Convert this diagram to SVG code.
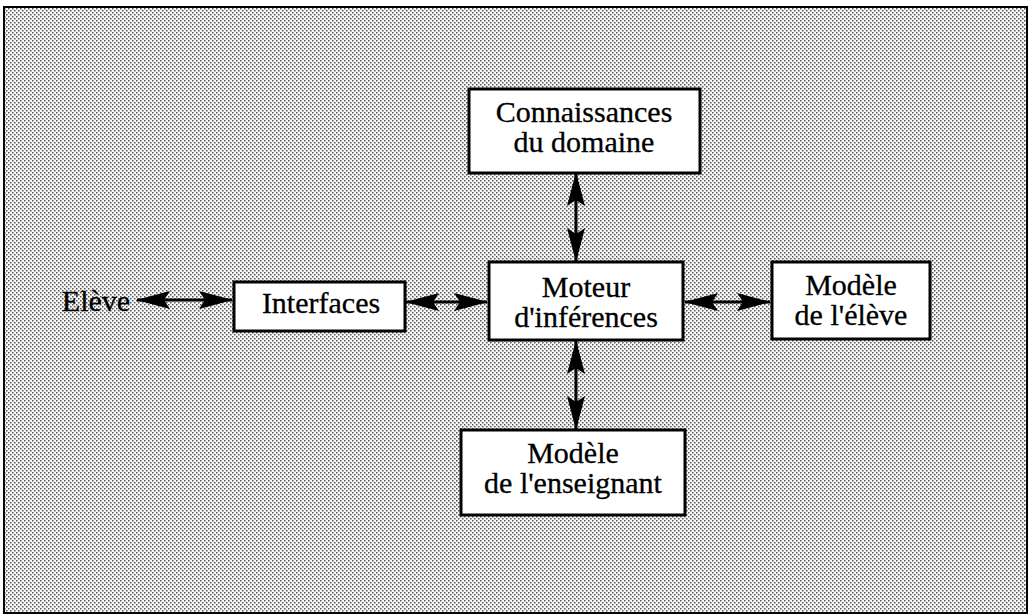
<svg xmlns="http://www.w3.org/2000/svg" width="1033" height="616" viewBox="0 0 1033 616">
<style>
.box{fill:#fff;stroke:#000;stroke-width:3}
.t{font-family:'Liberation Serif','Times New Roman',Times,serif;font-size:30px;fill:#000;stroke:#000;stroke-width:0.3;text-anchor:middle}
.c{stroke:#000;stroke-width:3;fill:none;marker-start:url(#ah);marker-end:url(#ah)}
</style>
<defs>
<pattern id="dots" width="4" height="4" patternUnits="userSpaceOnUse">
<rect width="4" height="4" fill="#f8f8f8"/>
<rect x="0" y="0" width="1.5" height="1.5" fill="#555"/>
<rect x="2" y="2" width="1.5" height="1.5" fill="#555"/>
</pattern>
<marker id="ah" markerUnits="userSpaceOnUse" markerWidth="34" markerHeight="18" refX="33" refY="9" orient="auto-start-reverse" viewBox="0 0 34 18">
<path d="M0,0 L34,9 L0,18 L6,9 Z" fill="#000"/>
</marker>
</defs>
<rect x="4" y="7" width="1023" height="606" fill="url(#dots)" stroke="#000" stroke-width="2"/>
<g id="connectors">
<line class="c" x1="137" y1="300" x2="232" y2="300"/>
<line class="c" x1="406" y1="302" x2="487" y2="302"/>
<line class="c" x1="685" y1="302" x2="770" y2="302"/>
<line class="c" x1="576" y1="173" x2="576" y2="261"/>
<line class="c" x1="576" y1="341" x2="576" y2="429"/>
</g>
<g id="eleve"><text class="t" x="96" y="311">Elève</text></g>
<g id="interfaces"><rect class="box" x="234" y="282" width="171" height="49"/><text class="t" x="321" y="313">Interfaces</text></g>
<g id="connaissances"><rect class="box" x="469" y="89" width="231" height="84"/><text class="t" x="584" y="122">Connaissances</text><text class="t" x="584" y="152">du domaine</text></g>
<g id="moteur"><rect class="box" x="489" y="262" width="194" height="78"/><text class="t" x="586" y="297">Moteur</text><text class="t" x="586" y="327">d'inférences</text></g>
<g id="modele-eleve"><rect class="box" x="772" y="262" width="158" height="77"/><text class="t" x="851" y="295">Modèle</text><text class="t" x="851" y="325">de l'élève</text></g>
<g id="modele-enseignant"><rect class="box" x="461" y="430" width="224" height="85"/><text class="t" x="573" y="463">Modèle</text><text class="t" x="573" y="493">de l'enseignant</text></g>
</svg>
